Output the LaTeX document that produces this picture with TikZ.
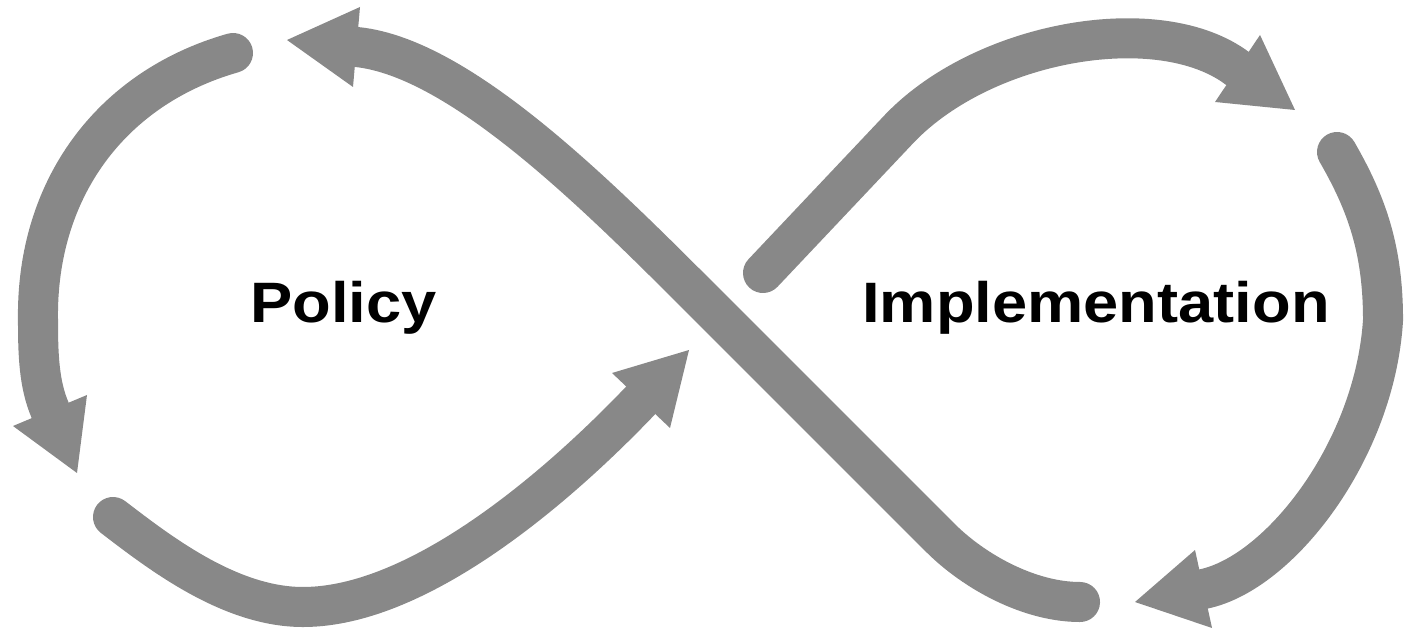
\documentclass[tikz,border=0pt]{standalone}
\usepackage{fontspec}
\newfontfamily\lblfont[FakeStretch=1.11]{Liberation Sans}
\definecolor{loopgray}{RGB}{136,136,136}
\begin{document}
\begin{tikzpicture}[x=0.01cm,y=-0.01cm,
  band/.style={draw=loopgray, line width=0.4cm, line cap=round},
  head/.style={fill=loopgray},
  lbl/.style={font=\lblfont\bfseries\fontsize{16.2pt}{19pt}\selectfont, text=black, inner sep=0pt, anchor=base}]
\useasboundingbox (0,0) rectangle (1404,631);
% arrow 1 (left arc, downward)
\draw[band] (233,53) .. controls (110,88) and (36,190) .. (38,320) .. controls (38,355) and (39,384) .. (50,410);
\fill[head] (77,473) -- (13,426) -- (87,395) -- cycle;
% arrow 2 (bottom left, rising to centre)
\draw[band] (113,517) .. controls (160,553) and (230,607) .. (303,607) .. controls (420,607) and (560,485) .. (641,400);
\fill[head] (689,350) -- (612,373) -- (670,428) -- cycle;
% arrow 3 (long diagonal)
\draw[band] (1080,602) .. controls (1030,602) and (975,572.5) .. (940,537.5) -- (719,316.5) .. controls (613,211) and (466,58) .. (356.5,47);
\fill[head] (287,40) -- (360,7) -- (353,87) -- cycle;
% arrow 4 (upper right)
\draw[band] (763,273) -- (900,128) .. controls (985,40) and (1160,10) .. (1237.5,68.5);
\fill[head] (1295,110) -- (1260,35) -- (1215,102) -- cycle;
% arrow 5 (right arc)
\draw[band] (1337,152) .. controls (1367,204) and (1383,250) .. (1383,320) .. controls (1375,450) and (1280,573) .. (1203.5,589);
\fill[head] (1135,602) -- (1195,550) -- (1212,628) -- cycle;
% labels
\node[lbl] (policy) at (343.5,323) {Policy};
\node[lbl] (impl) at (1096,323) {Implementation};
\end{tikzpicture}
\end{document}
